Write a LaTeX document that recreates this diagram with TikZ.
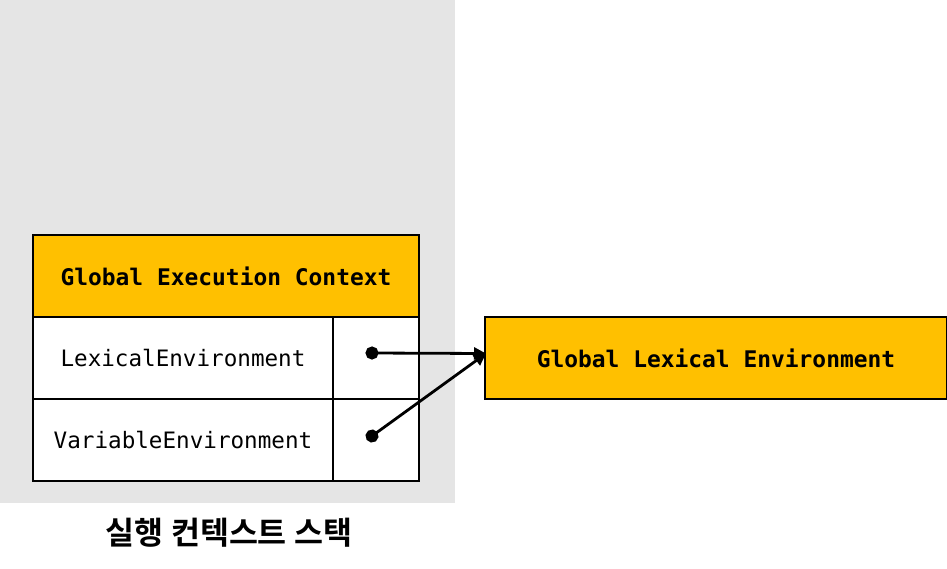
\documentclass[tikz,border=0pt]{standalone}
\usepackage{fontspec}
\setmonofont{DejaVu Sans Mono}
\newfontfamily\krfont{Noto Sans CJK KR Bold}
\usetikzlibrary{arrows.meta}
\definecolor{stackgray}{HTML}{E5E5E5}
\definecolor{gold}{HTML}{FFC000}
\tikzset{
  cellbox/.style={draw=black, line width=2pt, minimum height=82pt, inner sep=0pt, anchor=north west},
  hdrtext/.style={font=\ttfamily\bfseries\fontsize{22.9}{26}\selectfont},
  celltext/.style={font=\ttfamily\fontsize{22.6}{26}\selectfont},
  ptr/.style={line width=2.8pt, {Circle[length=13pt]}-{Triangle[length=12pt,width=12pt]}, shorten <=-6.5pt},
}
\begin{document}
\begin{tikzpicture}[x=1pt,y=-1pt]
\useasboundingbox (0,0) rectangle (947,568);
\fill[stackgray] (0,0) rectangle (455,503);
\node[cellbox, fill=gold, minimum width=386pt, hdrtext] (hdr) at (32,234) {Global Execution Context};
\node[cellbox, fill=white, minimum width=300pt, celltext] (lex) at (32,316) {LexicalEnvironment};
\node[cellbox, fill=white, minimum width=86pt] (lexp) at (332,316) {};
\node[cellbox, fill=white, minimum width=300pt, celltext] (var) at (32,398) {VariableEnvironment};
\node[cellbox, fill=white, minimum width=86pt] (varp) at (332,398) {};
\node[cellbox, fill=gold, minimum width=462pt, hdrtext] (gle) at (484,316) {Global Lexical Environment};
\node[font=\krfont\fontsize{31.5}{34}\selectfont] (title) at (229,533) {실행 컨텍스트 스택};
\coordinate (d1) at (372,353);
\coordinate (d2) at (372,436);
\coordinate (tip) at (486,353.5);
\draw[ptr] (d1) -- (tip);
\draw[ptr] (d2) -- (tip);
\end{tikzpicture}
\end{document}
